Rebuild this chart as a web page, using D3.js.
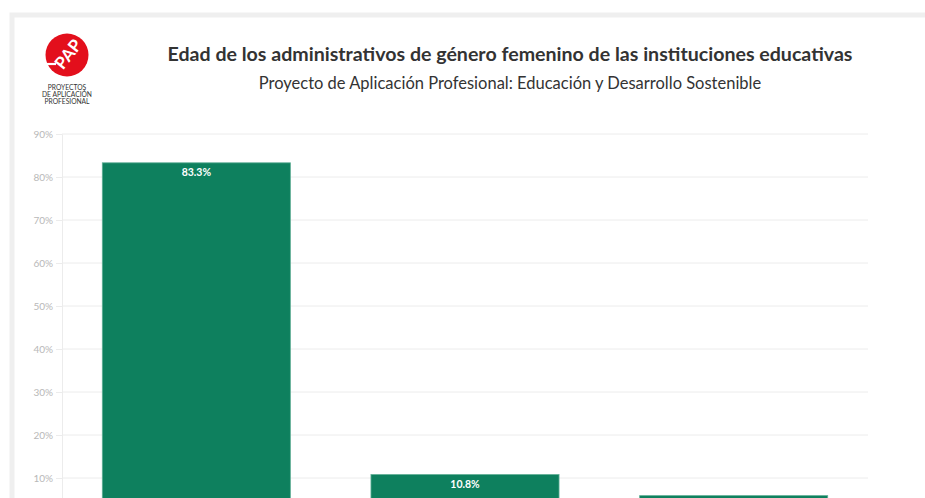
<!DOCTYPE html>
<html>
<head>
<meta charset="utf-8">
<script src="https://cdn.jsdelivr.net/npm/d3@7"></script>
<style>
  html, body { margin: 0; padding: 0; background: #ffffff; }
  svg { display: block; }
</style>
</head>
<body>
<svg id="chart" width="925" height="498"></svg>
<script>
// Age groups of female administrative staff
const categories = ["Entre 31 y 50 años", "Más de 50 años", "Entre 18 y 30 años"];
const shares = [83.3, 10.8, 5.9];
const yTicks = [10, 20, 30, 40, 50, 60, 70, 80, 90];

const title = "Edad de los administrativos de género femenino de las instituciones educativas";
const subtitle = "Proyecto de Aplicación Profesional: Educación y Desarrollo Sostenible";
const logoLines = ["PROYECTOS", "DE APLICACIÓN", "PROFESIONAL"];

const font = "Lato, 'Noto Sans', sans-serif";
const svg = d3.select("#chart");

// card framed by a light grey border
svg.append("rect")
  .attr("x", 12).attr("y", 15).attr("width", 960).attr("height", 600)
  .attr("fill", "#ffffff")
  .attr("stroke", "#efefef").attr("stroke-width", 5);

// logo
const logo = svg.append("g").attr("transform", "translate(67,55)");
logo.append("circle").attr("r", 21.5).attr("fill", "#e30f1c");
logo.append("line")
  .attr("x1", -21).attr("y1", 9).attr("x2", -11).attr("y2", 9)
  .attr("stroke", "#fff").attr("stroke-width", 2.2);
logo.append("text")
  .attr("transform", "translate(1,-1) rotate(-52)")
  .attr("text-anchor", "middle").attr("dy", "0.36em")
  .attr("fill", "#fff").attr("font-family", font).attr("font-weight", 700)
  .attr("font-size", 17).text("PAP");
logo.selectAll("text.line").data(logoLines).join("text")
  .attr("class", "line")
  .attr("x", 0).attr("y", (d, i) => 35 + i * 7.2)
  .attr("text-anchor", "middle")
  .attr("fill", "#333").attr("font-family", font)
  .attr("font-size", 6.7).text(d => d);

// titles
svg.append("text")
  .attr("x", 510).attr("y", 61).attr("text-anchor", "middle")
  .attr("font-family", font).attr("font-weight", 700).attr("font-size", 19.6)
  .attr("fill", "#333").text(title);
svg.append("text")
  .attr("x", 510).attr("y", 89).attr("text-anchor", "middle")
  .attr("font-family", font).attr("font-size", 16.5)
  .attr("fill", "#333").text(subtitle);

// scales
const x = d3.scaleBand().domain(categories).range([62, 868]).paddingInner(0.3).paddingOuter(0.15);
const y = d3.scaleLinear().domain([0, 90]).range([521, 134]);

// gridlines
svg.append("g").selectAll("line").data(yTicks).join("line")
  .attr("x1", 62).attr("x2", 868)
  .attr("y1", d => y(d)).attr("y2", d => y(d))
  .attr("stroke", "#ececec").attr("stroke-width", 1);

// y axis
const yAxis = svg.append("g").attr("transform", "translate(62,0)")
  .call(d3.axisLeft(y).tickValues(yTicks).tickFormat(d => d + "%").tickSize(6).tickPadding(3));
yAxis.select(".domain").attr("stroke", "#ececec");
yAxis.selectAll(".tick line").attr("stroke", "#ececec");
yAxis.selectAll(".tick text").attr("fill", "#b8b8b8").attr("font-family", font).attr("font-size", 10);

// bars
svg.append("g").selectAll("rect").data(categories).join("rect")
  .attr("x", d => x(d))
  .attr("y", (d, i) => y(shares[i]))
  .attr("width", x.bandwidth())
  .attr("height", (d, i) => y(0) - y(shares[i]))
  .attr("fill", "#0e805e")
  .attr("stroke", "#5fae95").attr("stroke-width", 0.8);

// value labels
svg.append("g").selectAll("text").data(categories).join("text")
  .attr("x", d => x(d) + x.bandwidth() / 2)
  .attr("y", (d, i) => y(shares[i]) + 13)
  .attr("text-anchor", "middle")
  .attr("fill", "#ffffff").attr("font-family", font).attr("font-weight", 700).attr("font-size", 10.5)
  .text((d, i) => d3.format(".1f")(shares[i]) + "%");
</script>
</body>
</html>
